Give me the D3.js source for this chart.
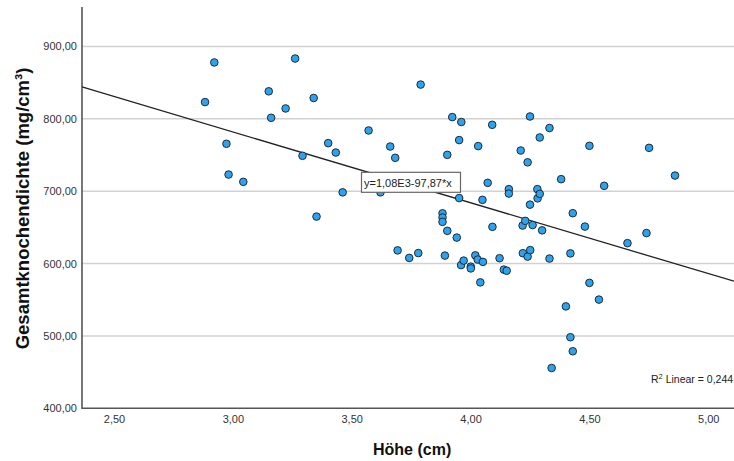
<!DOCTYPE html>
<html>
<head>
<meta charset="utf-8">
<script src="https://cdn.jsdelivr.net/npm/d3@7"></script>
<style>
  html, body { margin: 0; padding: 0; background: #fff; }
  svg { display: block; font-family: "Liberation Sans", Arial, sans-serif; }
</style>
</head>
<body>
<div id="chart"></div>
<script>
// Höhe (cm) per specimen
var hoehe = [2.883, 2.922, 2.973, 2.982, 3.044, 3.151, 3.161, 3.222, 3.262, 3.293,
             3.340, 3.352, 3.401, 3.433, 3.462, 3.571, 3.621, 3.662, 3.683, 3.693,
             3.742, 3.780, 3.790, 3.882, 3.882, 3.882, 3.892, 3.902, 3.902, 3.923,
             3.942, 3.952, 3.952, 3.961, 3.960, 3.971, 4.001, 4.001, 4.020, 4.030,
             4.032, 4.041, 4.050, 4.052, 4.072, 4.091, 4.092, 4.122, 4.140, 4.152,
             4.161, 4.161, 4.211, 4.219, 4.220, 4.230, 4.240, 4.240, 4.250, 4.250,
             4.251, 4.261, 4.281, 4.282, 4.291, 4.291, 4.301, 4.332, 4.332, 4.341,
             4.381, 4.401, 4.420, 4.420, 4.430, 4.430, 4.481, 4.500, 4.500, 4.540,
             4.562, 4.660, 4.740, 4.751, 4.860];
// Gesamtknochendichte (mg/cm³) per specimen
var dichte = [823.1, 877.9, 765.5, 723.0, 712.9, 838.0, 801.4, 814.3, 883.3, 748.9,
              828.8, 664.9, 766.4, 753.4, 698.4, 783.9, 698.4, 761.7, 746.1, 618.2,
              607.8, 614.5, 847.3, 669.4, 663.6, 657.6, 611.0, 750.2, 645.2, 802.4,
              635.9, 770.6, 690.5, 795.6, 597.9, 604.1, 595.7, 593.3, 611.3, 605.5,
              762.3, 574.0, 688.0, 602.3, 711.5, 791.7, 650.7, 607.4, 591.6, 590.1,
              702.8, 696.7, 756.2, 652.5, 614.3, 659.0, 609.6, 739.9, 803.2, 681.4,
              618.6, 653.2, 702.8, 690.1, 696.3, 774.2, 645.9, 787.3, 606.9, 455.7,
              716.6, 540.8, 614.0, 498.2, 669.6, 478.8, 651.1, 762.7, 573.3, 550.2,
              707.4, 628.2, 642.1, 759.9, 721.6];

var xTicks = [2.5, 3.0, 3.5, 4.0, 4.5, 5.0];
var yTicks = [400, 500, 600, 700, 800, 900];
var fitLine = [1075.5, -97.87];   // intercept, slope as drawn
var fitLabel = "y=1,08E3-97,87*x";
var r2Label = ["R", "2", " Linear = 0,244"];

var width = 734;
var height = 461;
var plot = {left: 82, top: 7, right: 734, bottom: 408.3};

var fmt = function(d){ return d3.format(".2f")(d).replace(".", ","); };

var svg = d3.select("#chart")
            .append("svg")
            .attr("width", width)
            .attr("height", height);

var x = d3.scaleLinear()
          .domain([2.3654, 5.1082])
          .range([plot.left, plot.right]);

var y = d3.scaleLinear()
          .domain([400, 954.5])
          .range([plot.bottom, plot.top]);

// grid lines
svg.append("g")
   .selectAll("line")
   .data(yTicks.slice(1))
   .enter()
   .append("line")
   .attr("x1", plot.left)
   .attr("x2", plot.right)
   .attr("y1", function(d){ return y(d); })
   .attr("y2", function(d){ return y(d); })
   .attr("stroke", "#d2d2d2")
   .attr("stroke-width", 1.5);

// y axis
var yAxis = svg.append("g")
   .attr("transform", "translate(" + plot.left + ",0)")
   .call(d3.axisLeft(y).tickValues(yTicks).tickFormat(fmt).tickSize(0).tickPadding(5));
yAxis.select(".domain").remove();
yAxis.selectAll("text")
     .attr("font-family", "Liberation Sans, Arial, sans-serif")
     .attr("font-size", "11px")
     .attr("fill", "#333");

// x axis
var xAxis = svg.append("g")
   .attr("transform", "translate(0," + plot.bottom + ")")
   .call(d3.axisBottom(x).tickValues(xTicks).tickFormat(fmt).tickSize(0).tickPadding(7));
xAxis.select(".domain").remove();
xAxis.selectAll("text")
     .attr("font-family", "Liberation Sans, Arial, sans-serif")
     .attr("font-size", "11px")
     .attr("fill", "#333");

// axis lines
svg.append("path")
   .attr("d", "M" + plot.left + "," + plot.top + "V" + plot.bottom + "H" + plot.right)
   .attr("fill", "none")
   .attr("stroke", "#555")
   .attr("stroke-width", 1.6);

// regression line
svg.append("line")
   .attr("x1", x(x.domain()[0]))
   .attr("x2", x(x.domain()[1]))
   .attr("y1", y(fitLine[0] + fitLine[1] * x.domain()[0]))
   .attr("y2", y(fitLine[0] + fitLine[1] * x.domain()[1]))
   .attr("stroke", "#222")
   .attr("stroke-width", 1.3);

// points
svg.append("g")
   .selectAll("circle")
   .data(d3.zip(hoehe, dichte))
   .enter()
   .append("circle")
   .attr("cx", function(d){ return x(d[0]); })
   .attr("cy", function(d){ return y(d[1]); })
   .attr("r", 3.8)
   .attr("fill", "#2fa2ee")
   .attr("stroke", "#1c2b38")
   .attr("stroke-width", 1);

// fit label box
var box = svg.append("g")
   .attr("transform", "translate(361.5,172.3)");
box.append("rect")
   .attr("width", 99)
   .attr("height", 20)
   .attr("fill", "#fff")
   .attr("stroke", "#666")
   .attr("stroke-width", 1.2);
box.append("text")
   .attr("x", 2.5)
   .attr("y", 14.5)
   .attr("font-size", "11px")
   .attr("fill", "#222")
   .text(fitLabel);

// R² label (kept inside the frame)
var r2 = svg.append("text")
   .attr("x", 651)
   .attr("y", 382.5)
   .attr("font-size", "10.5px")
   .attr("fill", "#222");
r2.append("tspan").text(r2Label[0]);
r2.append("tspan").attr("dy", -4).attr("font-size", "7.5px").text(r2Label[1]);
r2.append("tspan").attr("dy", 4).text(r2Label[2]);

// axis titles
svg.append("text")
   .attr("x", 373)
   .attr("y", 455)
   .attr("font-size", "16px")
   .attr("font-weight", "bold")
   .attr("fill", "#111")
   .text("Höhe (cm)");

svg.append("text")
   .attr("transform", "translate(29,208.5) rotate(-90)")
   .attr("text-anchor", "middle")
   .attr("font-size", "18.5px")
   .attr("font-weight", "bold")
   .attr("fill", "#111")
   .text("Gesamtknochendichte (mg/cm³)");
</script>
</body>
</html>
